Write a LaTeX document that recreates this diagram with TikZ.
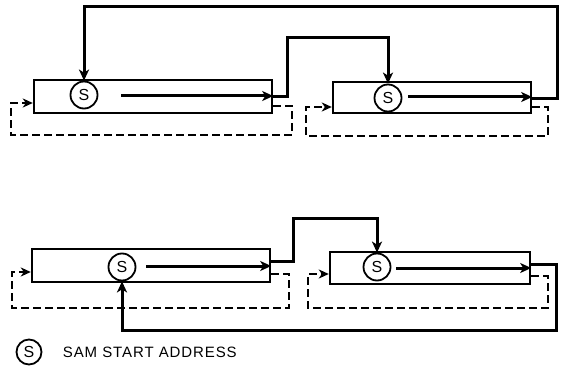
\documentclass[tikz,border=0pt]{standalone}
\usepackage{fontspec}
\setmainfont{Liberation Sans}
\usetikzlibrary{arrows.meta,positioning,calc}

\begin{document}
\begin{tikzpicture}[x=1pt,y=-1pt,
  reg/.style={draw,line width=2.4pt,minimum height=33pt,inner sep=0pt},
  sam/.style={circle,draw,fill=white,line width=1.8pt,minimum size=27pt,inner sep=0pt,font=\fontsize{16}{16}\selectfont},
  arr/.style={-{Stealth[length=11pt,width=10pt,inset=3pt]},line width=3pt},
  feed/.style={-{Stealth[length=10pt,width=9pt,inset=3pt]},line width=2.4pt,dash pattern=on 8pt off 4pt},
  key/.style={font=\fontsize{15}{17}\selectfont\addfontfeature{LetterSpace=6}}
]
  \useasboundingbox (0,0) rectangle (567,366);

  \node[reg,minimum width=238pt] (b1) at (153,96.5) {};
  \node[reg,minimum width=198pt,minimum height=31pt] (b2) at (432,97.5) {};
  \node[reg,minimum width=238pt] (b3) at (151,265.5) {};
  \node[reg,minimum width=200pt,minimum height=32pt] (b4) at (430,268) {};

  \node[sam] (s1) at (84,95) {S};
  \node[sam] (s2) at (388,98) {S};
  \node[sam] (s3) at (122,267) {S};
  \node[sam] (s4) at (377,267) {S};

  \coordinate (t1) at (121,96);
  \coordinate (t2) at (408,97);
  \coordinate (t3) at (146,266);
  \coordinate (t4) at (396,268);
  \draw[arr] (t1) -- (b1.east |- t1);
  \draw[arr] (t2) -- (b2.east |- t2);
  \draw[arr] (t3) -- (b3.east |- t3);
  \draw[arr] (t4) -- (b4.east |- t4);

  \coordinate (j1) at (287,38);
  \coordinate (j2) at (557,7);
  \coordinate (j3) at (293,218);
  \coordinate (j4) at (556,330);
  \draw[arr] (b1.east) -| (j1) -| (s2.north);
  \draw[arr] ($(b2.east)+(0,1.5)$) -| (j2) -| (s1.north);
  \draw[arr] ($(b3.east)+(0,-4.5)$) -| (j3) -| (s4.north);
  \draw[arr] ($(b4.east)+(0,-4)$) -| (j4) -| (s3.south);

  \coordinate (f1) at (292,135);
  \coordinate (g1) at (11,103);
  \coordinate (f2) at (548,136);
  \coordinate (g2) at (306,107);
  \coordinate (f3) at (289,308);
  \coordinate (g3) at (12,272);
  \coordinate (f4) at (548,308);
  \coordinate (g4) at (308,274);
  \draw[feed] ($(b1.east)+(0,9.5)$) -| (f1) -| (g1) -- (b1.west |- g1);
  \draw[feed] ($(b2.east)+(0,9.5)$) -| (f2) -| (g2) -- (b2.west |- g2);
  \draw[feed] ($(b3.east)+(0,8.5)$) -| (f3) -| (g3) -- (b3.west |- g3);
  \draw[feed] ($(b4.east)+(0,8)$) -| (f4) -| (g4) -- (b4.west |- g4);

  \node[sam,minimum size=25pt] (sk) at (29,352) {S};
  \node[key,right=17pt of sk] (skt) {SAM START ADDRESS};
\end{tikzpicture}
\end{document}
